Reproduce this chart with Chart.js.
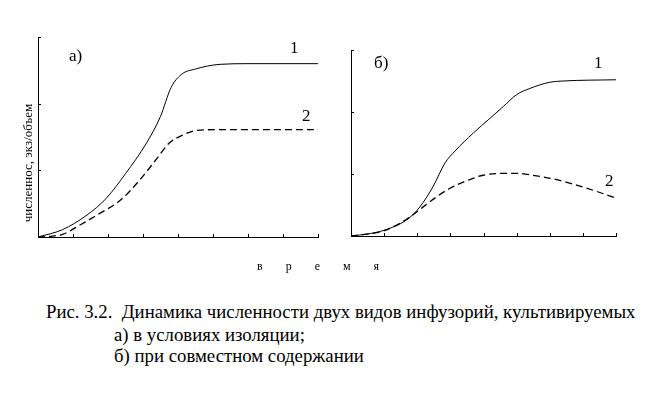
<!DOCTYPE html>
<html>
<head>
<meta charset="utf-8">
<script src="https://cdn.jsdelivr.net/npm/chart.js@4.4.0/dist/chart.umd.min.js"></script>
<style>
    body { margin: 0; background: #fff; }
    #wrap { position: relative; width: 672px; height: 393px; color: #000; }
    #wrap div { font-family: 'Liberation Serif', 'DejaVu Serif', serif; }
    .box { position: absolute; top: 0; width: 336px; height: 260px; }
    .lbl { position: absolute; font-size: 17px; line-height: 17px; white-space: nowrap; }
    .cap { position: absolute; font-size: 18.8px; line-height: 18.8px; white-space: nowrap; }
</style>
</head>
<body>
<div id="wrap">
    <div class="box" style="left:0"><canvas id="chartA"></canvas></div>
    <div class="box" style="left:336px"><canvas id="chartB"></canvas></div>

    <div class="lbl" style="left:69px; top:47px;">а)</div>
    <div class="lbl" style="left:290px; top:39px;">1</div>
    <div class="lbl" style="left:302px; top:107px;">2</div>
    <div class="lbl" style="left:374px; top:54px;">б)</div>
    <div class="lbl" style="left:594px; top:54px;">1</div>
    <div class="lbl" style="left:605px; top:172px;">2</div>

    <div style="position:absolute; left:28px; top:163px; transform:translate(-50%,-50%) rotate(-90deg); font-size:13px; white-space:nowrap;">численнос, экз/объем</div>
    <div style="position:absolute; left:257px; top:259px; font-size:12px; letter-spacing:23px; white-space:nowrap;">время</div>

    <div class="cap" style="left:46px; top:303px;">Рис. 3.2.&nbsp; Динамика численности двух видов инфузорий, культивируемых</div>
    <div class="cap" style="left:114px; top:326px;">а) в условиях изоляции;</div>
    <div class="cap" style="left:114px; top:347px;">б) при совместном содержании</div>
</div>
<script>
// время, условные единицы (деления оси)
const xTicks = [0, 1, 2, 3, 4, 5, 6, 7, 8];
const yTicks = [0, 1, 2, 3];

// а) в условиях изоляции
const isoT1 = [0, 0.7, 1.4, 1.95, 2.5, 3.1, 3.5, 3.8, 4.1, 4.5, 5.2, 6, 8];
const isoN1 = [0, 0.11, 0.33, 0.58, 0.95, 1.41, 1.81, 2.24, 2.44, 2.52, 2.59, 2.6, 2.6];
const isoT2 = [0, 0.33, 0.7, 1.2, 1.75, 2.35, 2.9, 3.4, 3.75, 4.1, 4.55, 5.1, 8];
const isoN2 = [0, 0.01, 0.04, 0.18, 0.35, 0.55, 0.85, 1.18, 1.41, 1.52, 1.6, 1.61, 1.61];

// б) при совместном содержании
const jointT1 = [0, 0.47, 0.98, 1.68, 2.08, 2.48, 2.84, 3.14, 3.69, 4.2, 4.6, 5.0, 5.4, 6.0, 6.4, 8];
const jointN1 = [0, 0.03, 0.09, 0.26, 0.47, 0.8, 1.18, 1.37, 1.66, 1.9, 2.09, 2.28, 2.38, 2.48, 2.5, 2.52];
const jointT2 = [0, 0.47, 0.98, 1.68, 2.18, 2.58, 2.99, 3.49, 3.99, 4.6, 5.0, 5.6, 6.21, 6.81, 7.41, 8];
const jointN2 = [0, 0.03, 0.08, 0.27, 0.47, 0.63, 0.77, 0.89, 0.98, 1.01, 1.01, 0.97, 0.91, 0.82, 0.72, 0.61];

function toPoints(xs, ys) {
    return xs.map((x, i) => ({ x: x, y: ys[i] }));
}

// short tick marks pointing into the plot
const innerTicks = {
    id: 'innerTicks',
    afterDraw(chart) {
        const ctx = chart.ctx;
        const sx = chart.scales.x, sy = chart.scales.y;
        const a = chart.chartArea;
        ctx.save();
        ctx.strokeStyle = '#000';
        ctx.lineWidth = 1;
        ctx.beginPath();
        xTicks.forEach(v => {
            const px = Math.round(sx.getPixelForValue(v)) + 0.5;
            ctx.moveTo(px, a.bottom);
            ctx.lineTo(px, a.bottom - 3);
        });
        yTicks.forEach(v => {
            const py = Math.round(sy.getPixelForValue(v)) + 0.5;
            ctx.moveTo(a.left, py);
            ctx.lineTo(a.left + 3, py);
        });
        ctx.stroke();
        ctx.restore();
    }
};

function makeChart(id, s1, s2, pad) {
    const line = (data, dash, w) => ({
        data: data,
        borderColor: '#000',
        borderWidth: w,
        borderDash: dash,
        pointRadius: 0,
        fill: false,
        cubicInterpolationMode: 'monotone'
    });
    return new Chart(document.getElementById(id), {
        type: 'line',
        data: {
            datasets: [line(s1, [], 1), line(s2, [7, 4], 1.3)]
        },
        options: {
            responsive: true,
            maintainAspectRatio: false,
            animation: false,
            layout: { padding: pad },
            plugins: { legend: { display: false }, tooltip: { enabled: false } },
            scales: {
                x: {
                    type: 'linear', min: 0, max: 8,
                    ticks: { display: false, stepSize: 1 },
                    grid: { display: false, drawTicks: false },
                    border: { display: true, color: '#000', width: 1 }
                },
                y: {
                    min: 0, max: 3,
                    ticks: { display: false, stepSize: 1 },
                    grid: { display: false, drawTicks: false },
                    border: { display: true, color: '#000', width: 1 }
                }
            }
        },
        plugins: [innerTicks]
    });
}

makeChart('chartA', toPoints(isoT1, isoN1), toPoints(isoT2, isoN2),
    { left: 38, top: 37, right: 18, bottom: 23 });
makeChart('chartB', toPoints(jointT1, jointN1), toPoints(jointT2, jointN2),
    { left: 15, top: 50, right: 56, bottom: 24 });
</script>
</body>
</html>
